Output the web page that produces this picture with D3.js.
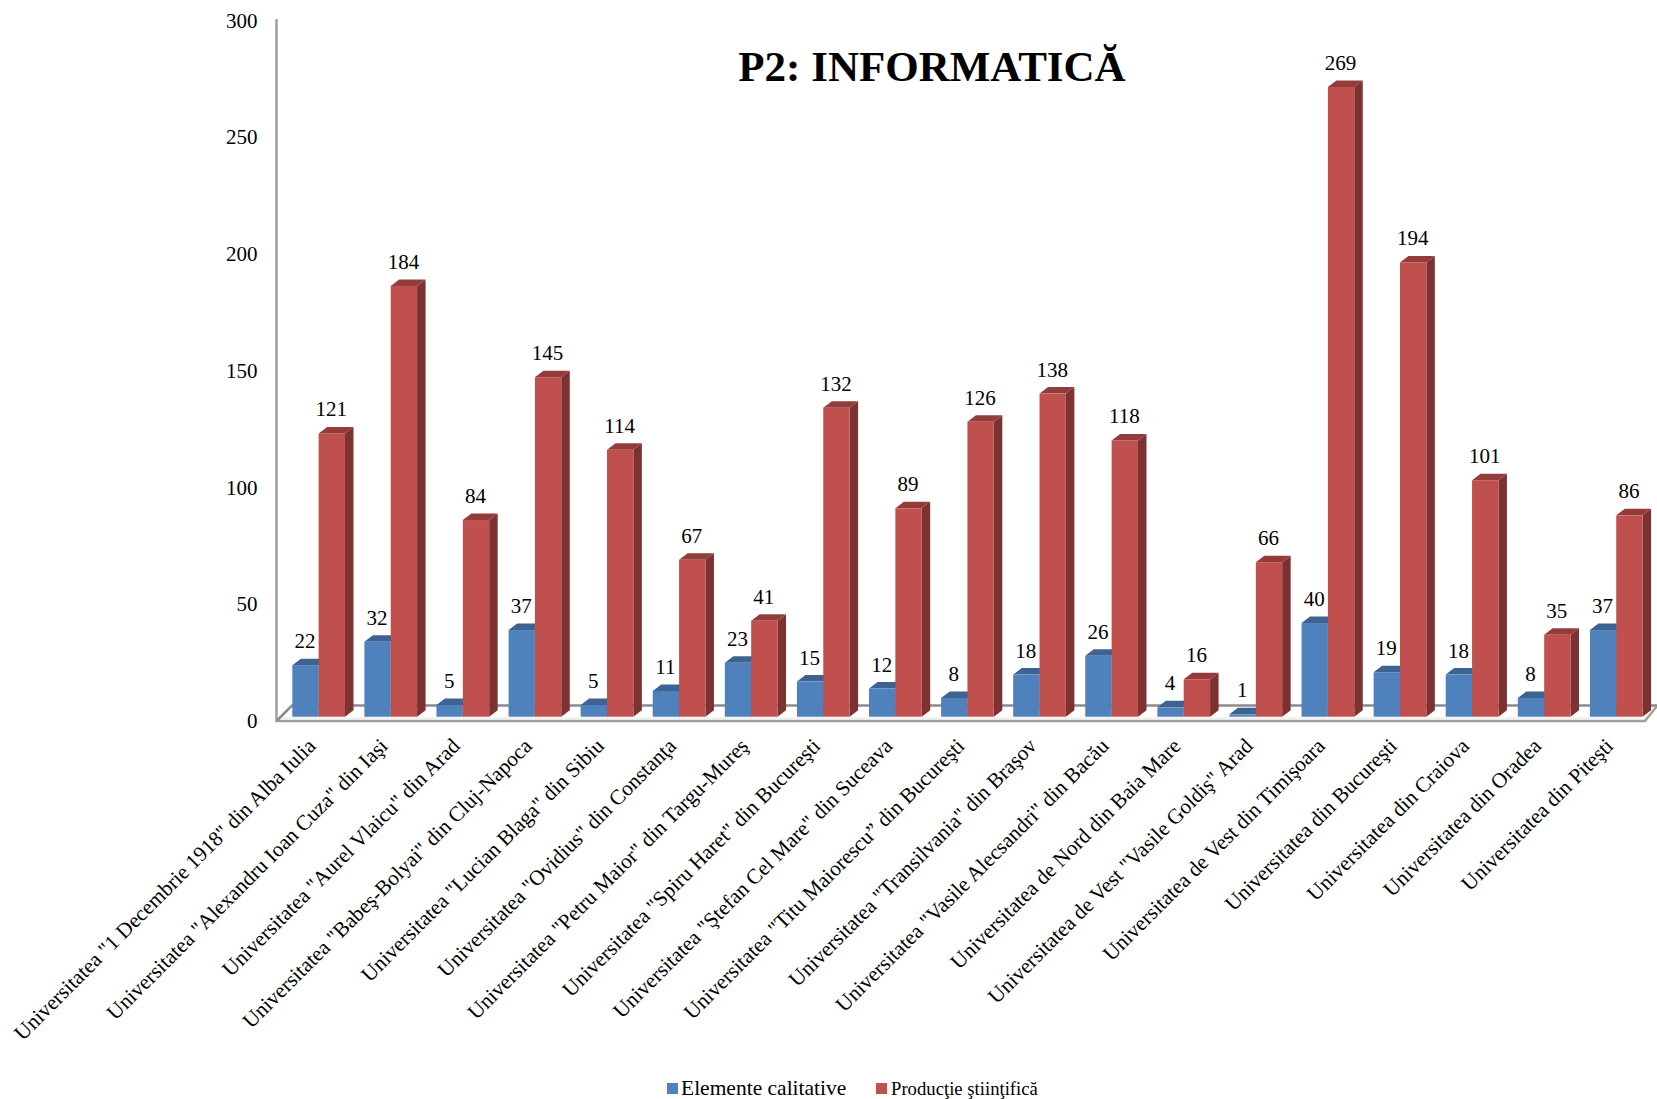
<!DOCTYPE html>
<html><head><meta charset="utf-8">
<script src="https://cdn.jsdelivr.net/npm/d3@7/dist/d3.min.js"></script>
<style>
html,body{margin:0;padding:0;background:#fff}
svg{display:block}
text{font-family:"Liberation Serif",serif;fill:#000}
</style></head><body>
<svg id="c" width="1657" height="1099"></svg>
<script>
const categories = [
 'Universitatea "1 Decembrie 1918" din Alba Iulia',
 'Universitatea "Alexandru Ioan Cuza" din Iaşi',
 'Universitatea "Aurel Vlaicu" din Arad',
 'Universitatea "Babeş-Bolyai" din Cluj-Napoca',
 'Universitatea "Lucian Blaga" din Sibiu',
 'Universitatea "Ovidius" din Constanţa',
 'Universitatea "Petru Maior" din Targu-Mureş',
 'Universitatea "Spiru Haret" din Bucureşti',
 'Universitatea "Ştefan Cel Mare" din Suceava',
 'Universitatea "Titu Maiorescu” din Bucureşti',
 'Universitatea "Transilvania" din Braşov',
 'Universitatea "Vasile Alecsandri" din Bacău',
 'Universitatea de Nord din Baia Mare',
 'Universitatea de Vest "Vasile Goldiş" Arad',
 'Universitatea de Vest din Timişoara',
 'Universitatea din Bucureşti',
 'Universitatea din Craiova',
 'Universitatea din Oradea',
 'Universitatea din Piteşti'];
const elementeCalitative = [22,32,5,37,5,11,23,15,12,8,18,26,4,1,40,19,18,8,37];
const productieStiintifica = [121,184,84,145,114,67,41,132,89,126,138,118,16,66,269,194,101,35,86];
const yTicks = [0,50,100,150,200,250,300];
const seriesNames = ['Elemente calitative','Producţie ştiinţifică'];
const seriesFront = ['#4f81bd','#c0504d'];
const seriesTop = ['#3c6391','#923d3b'];
const seriesSide = ['#375a85','#7d3231'];
const titleText = 'P2: INFORMATICĂ';

const svg = d3.select('#c');
const x = d3.scaleBand().domain(categories).range([282.6,1652.3]).paddingInner(0.269).paddingOuter(0.1345);
const xs = d3.scaleBand().domain([0,1]).range([0,x.bandwidth()]);
const y = d3.scaleLinear().domain([0,300]).range([716.7,14.3]);
const yLabel = d3.scaleLinear().domain([0,300]).range([728,27.5]);
const dx = 8.5, dy = 6.5;
const axisCol = '#a0a0a0';

svg.append('path').attr('d','M276.5 19V721H1645L1657 706').attr('fill','none').attr('stroke',axisCol).attr('stroke-width',2.5);
svg.append('path').attr('d','M276.5 721L292 705.5H1657').attr('fill','none').attr('stroke','#8c8c8c').attr('stroke-width',2.5);
svg.append('line').attr('x1',282).attr('x2',1640).attr('y1',718).attr('y2',718).attr('stroke','#e6e6e6').attr('stroke-width',1);

categories.forEach((c,i)=>{
  [elementeCalitative[i],productieStiintifica[i]].forEach((v,s)=>{
    const x0 = x(c)+xs(s), w = xs.bandwidth(), yt = y(v), yb = y(0);
    const g = svg.append('g');
    g.append('path').attr('d',`M${x0+w} ${yb}L${x0+w+dx} ${yb-dy}V${yt-dy}L${x0+w} ${yt}Z`).attr('fill',seriesSide[s]);
    g.append('path').attr('d',`M${x0} ${yt}L${x0+dx} ${yt-dy}H${x0+w+dx}L${x0+w} ${yt}Z`).attr('fill',seriesTop[s]);
    g.append('rect').attr('x',x0).attr('y',yt).attr('width',w).attr('height',yb-yt).attr('fill',seriesFront[s]);
  });
});
categories.forEach((c,i)=>{
  [elementeCalitative[i],productieStiintifica[i]].forEach((v,s)=>{
    svg.append('text').attr('x',x(c)+xs(s)+xs.bandwidth()/2-0.5).attr('y',y(v)-17)
      .attr('text-anchor','middle').attr('font-size',21).text(v);
  });
});
yTicks.forEach(t=>{
  svg.append('text').attr('x',257.5).attr('y',yLabel(t)).attr('text-anchor','end').attr('font-size',21).text(t);
});
categories.forEach(c=>{
  const px = x(c)+x.bandwidth()/2-7, py = 742;
  svg.append('text').attr('transform',`translate(${px},${py}) rotate(-45)`)
    .attr('text-anchor','end').attr('dy','0.35em').attr('font-size',21.3).text(c);
});
svg.append('text').attr('x',932).attr('y',81).attr('text-anchor','middle').attr('font-weight','bold').attr('font-size',43).text(titleText);
const legend = [{x:667,tx:681,fs:21.5},{x:876,tx:891,fs:18.7}];
legend.forEach((l,i)=>{
  svg.append('rect').attr('x',l.x).attr('y',1083).attr('width',11).attr('height',11).attr('fill',seriesFront[i]);
  svg.append('text').attr('x',l.tx).attr('y',1095).attr('font-size',l.fs).text(seriesNames[i]);
});
</script></body></html>
